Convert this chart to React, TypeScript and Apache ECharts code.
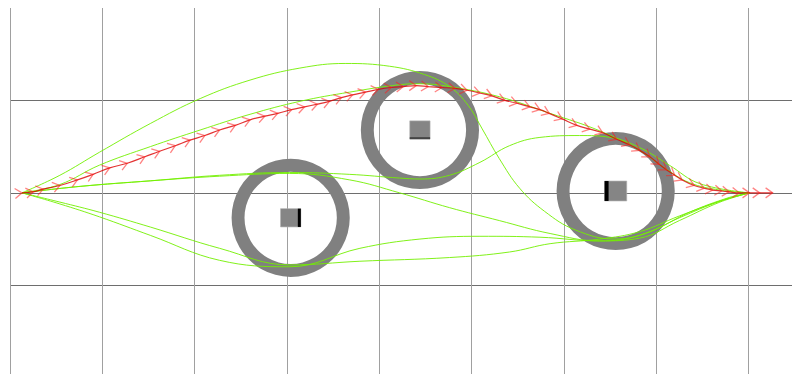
import React, { useEffect, useRef } from "react";
import * as echarts from "echarts";

// Grid units: one cell = 1 unit; y grows downward (screen-like frame)
const xRange = [0, 8.47];
const yRange = [-2, 1.96];

// Obstacles: [cx, cy, outer radius, inner radius, block half-size]
const obstacles = [
  [3.04, 0.27, 0.64, 0.5, 0.11],
  [4.44, -0.68, 0.64, 0.5, 0.11],
  [6.56, -0.02, 0.64, 0.5, 0.12],
];
const shadeSide = ["right", "bottom", "left"];

// Red optimised trajectory (arrow markers)
const redX = [0.13, 0.25, 0.36, 0.54, 0.73, 0.9, 1.08, 1.27, 1.46, 1.62, 1.79, 1.95, 2.11, 2.27, 2.44, 2.6, 2.76, 2.9, 3.05, 3.19, 3.33, 3.46, 3.59, 3.71, 3.85, 3.99, 4.13, 4.26, 4.4, 4.53, 4.68, 4.82, 4.95, 5.09, 5.22, 5.36, 5.49, 5.63, 5.74, 5.84, 5.98, 6.14, 6.28, 6.42, 6.57, 6.71, 6.82, 6.93, 7.03, 7.11, 7.2, 7.28, 7.41, 7.52, 7.61, 7.71, 7.79, 7.9, 8.01, 8.12, 8.26];
const redY = [0.0, -0.01, -0.04, -0.08, -0.14, -0.2, -0.27, -0.32, -0.39, -0.45, -0.51, -0.57, -0.62, -0.68, -0.73, -0.79, -0.83, -0.86, -0.9, -0.93, -0.96, -0.99, -1.03, -1.06, -1.09, -1.12, -1.14, -1.15, -1.16, -1.15, -1.14, -1.13, -1.11, -1.08, -1.05, -1.0, -0.97, -0.93, -0.9, -0.86, -0.8, -0.73, -0.69, -0.65, -0.58, -0.52, -0.46, -0.39, -0.31, -0.25, -0.19, -0.14, -0.08, -0.05, -0.03, -0.02, -0.01, 0.0, 0.0, 0.0, 0.0];

// Green candidate trajectories
const g1X = [0.13, 0.54, 0.97, 1.52, 2.06, 2.6, 3.14, 3.63, 4.11, 4.49, 4.76, 4.96, 5.11, 5.3, 5.52, 5.79, 6.12, 6.55, 6.93, 7.36, 7.79, 8.01];
const g1Y = [0.0, -0.19, -0.44, -0.75, -1.02, -1.22, -1.35, -1.4, -1.37, -1.28, -1.15, -0.95, -0.7, -0.37, -0.05, 0.2, 0.4, 0.5, 0.42, 0.21, 0.05, 0.0];
const g2X = [0.13, 0.54, 0.97, 1.52, 2.06, 2.6, 3.14, 3.68, 4.22, 4.44, 4.76, 5.3, 5.85, 6.39, 6.82, 7.09, 7.36, 7.69, 8.01];
const g2Y = [0.0, -0.09, -0.3, -0.5, -0.68, -0.85, -0.99, -1.09, -1.17, -1.18, -1.15, -1.04, -0.86, -0.67, -0.46, -0.27, -0.11, -0.03, 0.0];
const g3X = [0.13, 0.76, 1.52, 2.27, 3.03, 3.68, 4.22, 4.44, 4.76, 5.09, 5.41, 5.74, 6.17, 6.5, 6.82, 7.14, 7.47, 8.01];
const g3Y = [0.0, -0.07, -0.13, -0.19, -0.22, -0.2, -0.16, -0.15, -0.19, -0.33, -0.51, -0.6, -0.62, -0.6, -0.49, -0.3, -0.1, 0.0];
const g4X = [0.13, 0.76, 1.52, 2.27, 3.03, 3.68, 4.22, 4.76, 5.3, 5.85, 6.39, 6.82, 7.25, 7.69, 8.01];
const g4Y = [0.0, -0.07, -0.13, -0.18, -0.21, -0.14, 0.0, 0.16, 0.3, 0.44, 0.52, 0.49, 0.3, 0.1, 0.0];
const g5X = [0.13, 0.54, 0.97, 1.52, 2.27, 3.03, 3.79, 4.76, 5.41, 5.85, 6.39, 6.82, 7.25, 7.69, 8.01];
const g5Y = [0.0, 0.1, 0.21, 0.37, 0.6, 0.78, 0.74, 0.7, 0.64, 0.55, 0.5, 0.42, 0.25, 0.09, 0.0];
const g6X = [0.13, 0.54, 0.97, 1.52, 2.27, 3.03, 3.79, 4.44, 5.09, 5.74, 6.39, 6.82, 7.25, 7.69, 8.01];
const g6Y = [0.0, 0.12, 0.26, 0.46, 0.73, 0.8, 0.6, 0.5, 0.47, 0.48, 0.52, 0.46, 0.27, 0.09, 0.0];

const GREEN = "rgba(115,240,0,0.9)";

function zip(xs: number[], ys: number[]) {
  return xs.map((x, i) => [x, ys[i]]);
}

export default function App() {
  const ref = useRef<HTMLDivElement>(null);
  useEffect(() => {
    if (!ref.current) return;
    const chart = echarts.init(ref.current, undefined, { renderer: "svg" });
    const redData = zip(redX, redY);
    const greens = [zip(g1X, g1Y), zip(g2X, g2Y), zip(g3X, g3Y), zip(g4X, g4Y), zip(g5X, g5Y), zip(g6X, g6Y)];
    const axisCommon = {
      type: "value" as const,
      interval: 1,
      axisLine: { show: false },
      axisTick: { show: false },
      axisLabel: { show: false },
    };
    chart.setOption({
      animation: false,
      grid: { left: 10, top: 8, right: 0, bottom: 0 },
      xAxis: {
        ...axisCommon,
        min: xRange[0],
        max: xRange[1],
        splitLine: { show: true, showMaxLine: false, lineStyle: { color: "#a0a0a0", width: 1 } },
      },
      yAxis: {
        ...axisCommon,
        inverse: true,
        min: yRange[0],
        max: yRange[1],
        splitLine: { show: true, showMinLine: false, showMaxLine: false, lineStyle: { color: "#6e6e6e", width: 1 } },
      },
      series: [
        {
          type: "custom",
          z: 2,
          data: obstacles,
          renderItem: (params: any, api: any) => {
            const c = api.coord([api.value(0), api.value(1)]);
            const ro = api.size([api.value(2), 0])[0];
            const ri = api.size([api.value(3), 0])[0];
            const h = api.size([api.value(4), 0])[0];
            const side = shadeSide[params.dataIndex];
            const children: any[] = [
              { type: "ring", shape: { cx: c[0], cy: c[1], r: ro, r0: ri }, style: { fill: "#808080" } },
              {
                type: "rect",
                shape: { x: c[0] - h, y: c[1] - h * 0.9, width: 2 * h, height: 1.8 * h },
                style: { fill: "#858585", stroke: "#b0b0b0", lineWidth: 0.6 },
              },
            ];
            if (side === "right") {
              children.push({ type: "rect", shape: { x: c[0] + h - 3, y: c[1] - h * 0.9, width: 3, height: 1.8 * h }, style: { fill: "#000" } });
            } else if (side === "left") {
              children.push({ type: "rect", shape: { x: c[0] - h, y: c[1] - h * 0.9, width: 4, height: 1.8 * h }, style: { fill: "#000" } });
            } else {
              children.push({ type: "rect", shape: { x: c[0] - h, y: c[1] + h * 0.9 - 2, width: 2 * h, height: 2 }, style: { fill: "#444" } });
            }
            return { type: "group", children };
          },
        },
        ...greens.map((d) => ({
          type: "line",
          z: 3,
          data: d,
          smooth: 0.4,
          showSymbol: false,
          silent: true,
          lineStyle: { color: GREEN, width: 1 },
        })),
        {
          type: "line",
          z: 4,
          data: redData,
          smooth: 0.4,
          showSymbol: false,
          silent: true,
          lineStyle: { color: "rgba(220,0,0,0.8)", width: 1.2 },
        },
        {
          type: "custom",
          z: 5,
          data: redData,
          renderItem: (params: any, api: any) => {
            const i = params.dataIndex;
            const p = api.coord([redX[i], redY[i]]);
            const j0 = Math.max(0, i - 1);
            const j1 = Math.min(redX.length - 1, i + 1);
            const a = api.coord([redX[j0], redY[j0]]);
            const b = api.coord([redX[j1], redY[j1]]);
            const ang = Math.atan2(b[1] - a[1], b[0] - a[0]);
            const cs = Math.cos(ang);
            const sn = Math.sin(ang);
            const pts = [
              [-7, -5],
              [0, 0],
              [-7, 5],
            ].map(([u, v]) => [p[0] + u * cs - v * sn, p[1] + u * sn + v * cs]);
            return {
              type: "polyline",
              shape: { points: pts },
              style: { stroke: "rgba(255,30,30,0.55)", lineWidth: 1.3, fill: "none" },
            };
          },
        },
      ],
    });
    return () => chart.dispose();
  }, []);
  return <div ref={ref} style={{ position: "fixed", left: 0, top: 0, width: 792, height: 374 }} />;
}
